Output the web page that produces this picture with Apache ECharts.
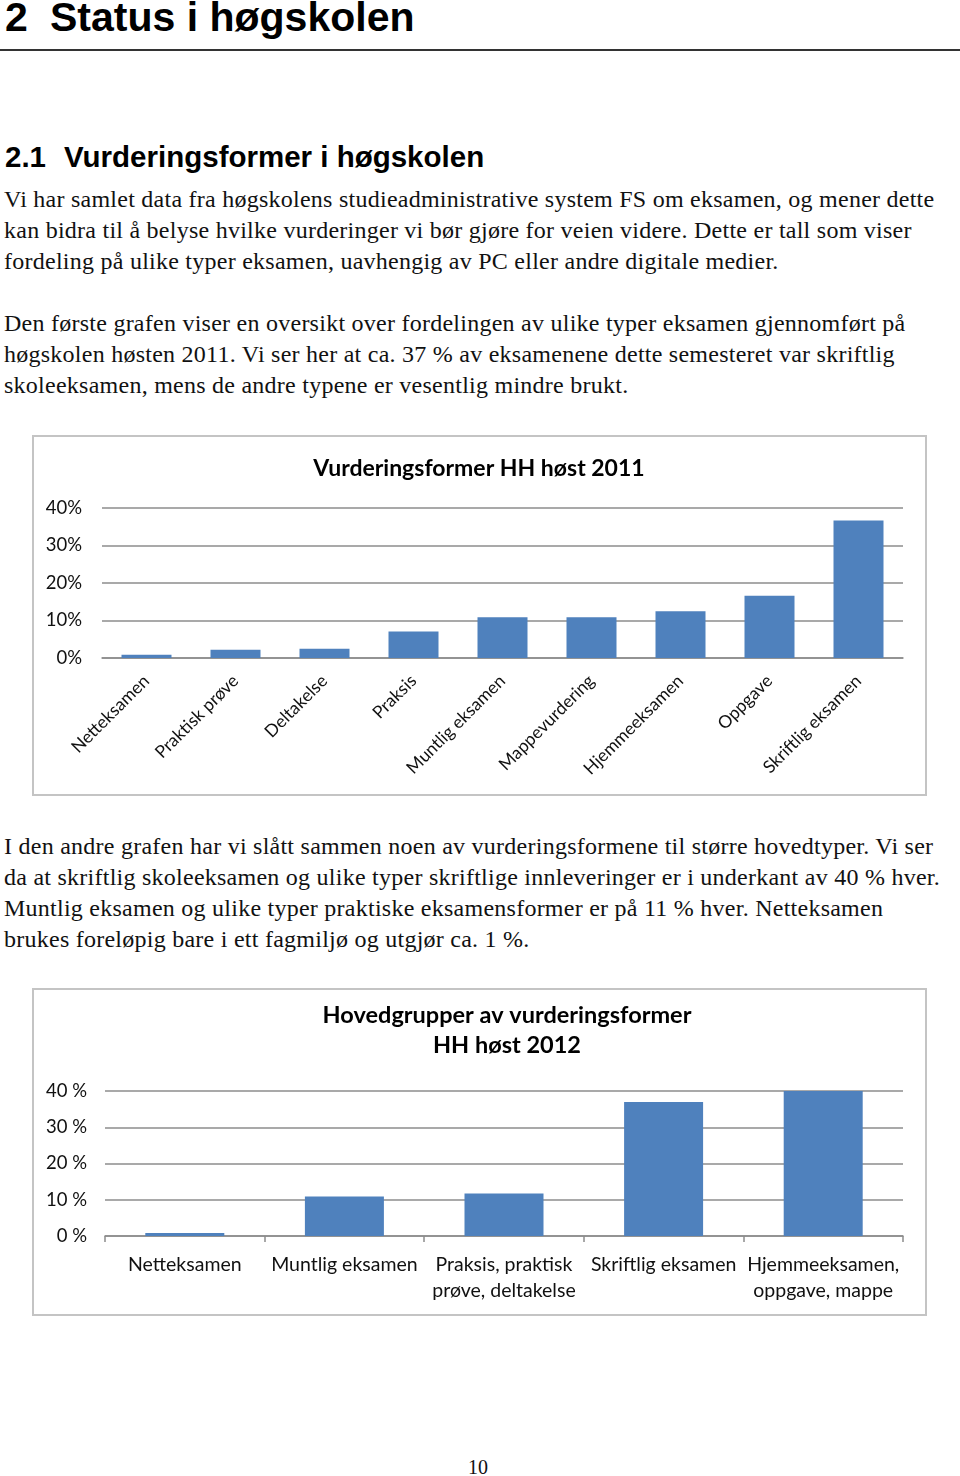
<!DOCTYPE html>
<html><head><meta charset="utf-8">
<script src="https://cdn.jsdelivr.net/npm/echarts@6/dist/echarts.min.js"></script>
<style>
html,body{margin:0;padding:0;background:#fff;}
body{width:960px;height:1476px;position:relative;overflow:hidden;}
.h1{position:absolute;font-family:"Liberation Sans",Arial,sans-serif;font-weight:bold;font-size:41px;color:#000;white-space:nowrap;line-height:1;}
.h2{position:absolute;font-family:"Liberation Sans",Arial,sans-serif;font-weight:bold;font-size:29.5px;color:#000;white-space:nowrap;line-height:1;}
.p{position:absolute;left:4px;font-family:"Liberation Serif","Times New Roman",serif;font-size:24px;letter-spacing:0.25px;line-height:31px;color:#111;white-space:nowrap;}
.box{position:absolute;left:32px;width:895px;box-sizing:border-box;border:2px solid #c4c4c4;background:#fff;}
</style></head>
<body>
<div class="h1" style="left:5px;top:-3px;">2</div>
<div class="h1" style="left:50px;top:-3px;">Status i høgskolen</div>
<div style="position:absolute;left:0;top:49px;width:960px;height:2px;background:#333;"></div>
<div class="h2" style="left:5px;top:142px;">2.1</div>
<div class="h2" style="left:64px;top:142px;">Vurderingsformer i høgskolen</div>
<div class="p" style="top:184px;">Vi har samlet data fra høgskolens studieadministrative system FS om eksamen, og mener dette<br>kan bidra til å belyse hvilke vurderinger vi bør gjøre for veien videre. Dette er tall som viser<br>fordeling på ulike typer eksamen, uavhengig av PC eller andre digitale medier.</div>
<div class="p" style="top:308px;">Den første grafen viser en oversikt over fordelingen av ulike typer eksamen gjennomført på<br>høgskolen høsten 2011. Vi ser her at ca. 37 % av eksamenene dette semesteret var skriftlig<br>skoleeksamen, mens de andre typene er vesentlig mindre brukt.</div>
<div id="c1" class="box" style="top:435px;height:361px;"></div>
<div class="p" style="top:831px;">I den andre grafen har vi slått sammen noen av vurderingsformene til større hovedtyper. Vi ser<br>da at skriftlig skoleeksamen og ulike typer skriftlige innleveringer er i underkant av 40 % hver.<br>Muntlig eksamen og ulike typer praktiske eksamensformer er på 11 % hver. Netteksamen<br>brukes foreløpig bare i ett fagmiljø og utgjør ca. 1 %.</div>
<div id="c2" class="box" style="top:988px;height:328px;"></div>
<div class="p" style="top:1452px;left:468px;font-size:20px;letter-spacing:0;">10</div>
<script>
// Chart 1 data
var cats1 = ["Netteksamen","Praktisk prøve","Deltakelse","Praksis","Muntlig eksamen","Mappevurdering","Hjemmeeksamen","Oppgave","Skriftlig eksamen"];
var vals1 = [0.9, 2.2, 2.5, 7.1, 10.9, 10.9, 12.5, 16.6, 36.7];
var ticks1 = ["0%","10%","20%","30%","40%"];
// Chart 2 data
var cats2 = ["Netteksamen","Muntlig eksamen","Praksis, praktisk\nprøve, deltakelse","Skriftlig eksamen","Hjemmeeksamen,\noppgave, mappe"];
var vals2 = [0.8, 10.9, 11.7, 37.0, 40.0];
var ticks2 = ["0 %","10 %","20 %","30 %","40 %"];

var FONT = 'Lato, "Open Sans", sans-serif';
var BLUE = '#4f81bd';
var GRID = '#8c8c8c';

var ch1 = echarts.init(document.getElementById('c1'));
ch1.setOption({
  animation:false,
  title:{text:'Vurderingsformer HH høst 2011', left:440, top:15, textAlign:'center',
    textStyle:{fontFamily:FONT, fontWeight:'bold', fontSize:23, color:'#000'}},
  grid:{left:68, top:71, width:801, height:150, containLabel:false},
  xAxis:{type:'category', data:cats1,
    axisLine:{show:true, lineStyle:{color:GRID, width:1.5}},
    axisTick:{show:false},
    axisLabel:{rotate:45, margin:20, fontFamily:FONT, fontSize:17.5, color:'#111', interval:0}},
  yAxis:{type:'value', min:0, max:40, interval:10,
    axisLine:{show:false}, axisTick:{show:false},
    splitLine:{lineStyle:{color:GRID, width:1.5}},
    axisLabel:{margin:20, fontFamily:FONT, fontSize:18.5, color:'#111',
      formatter:function(v){return ticks1[Math.round(v/10)];}}},
  series:[{type:'bar', data:vals1, barWidth:50, itemStyle:{color:BLUE}}]
});

var ch2 = echarts.init(document.getElementById('c2'));
ch2.setOption({
  animation:false,
  title:{text:'Hovedgrupper av vurderingsformer\nHH høst 2012', left:468, top:5, textAlign:'center',
    textStyle:{fontFamily:FONT, fontWeight:'bold', fontSize:23.5, color:'#000', lineHeight:30, align:'center'}},
  grid:{left:71, top:101, width:798, height:145, containLabel:false},
  xAxis:{type:'category', data:cats2,
    axisLine:{show:true, lineStyle:{color:GRID, width:1.5}},
    axisTick:{show:true, length:6, lineStyle:{color:GRID, width:1.5}},
    axisLabel:{margin:16, fontFamily:FONT, fontSize:19.5, color:'#111', interval:0, lineHeight:26}},
  yAxis:{type:'value', min:0, max:40, interval:10,
    axisLine:{show:false}, axisTick:{show:false},
    splitLine:{lineStyle:{color:GRID, width:1.5}},
    axisLabel:{margin:18, fontFamily:FONT, fontSize:18.5, color:'#111',
      formatter:function(v){return ticks2[Math.round(v/10)];}}},
  series:[{type:'bar', data:vals2, barWidth:79, itemStyle:{color:BLUE}}]
});
</script>
</body></html>
